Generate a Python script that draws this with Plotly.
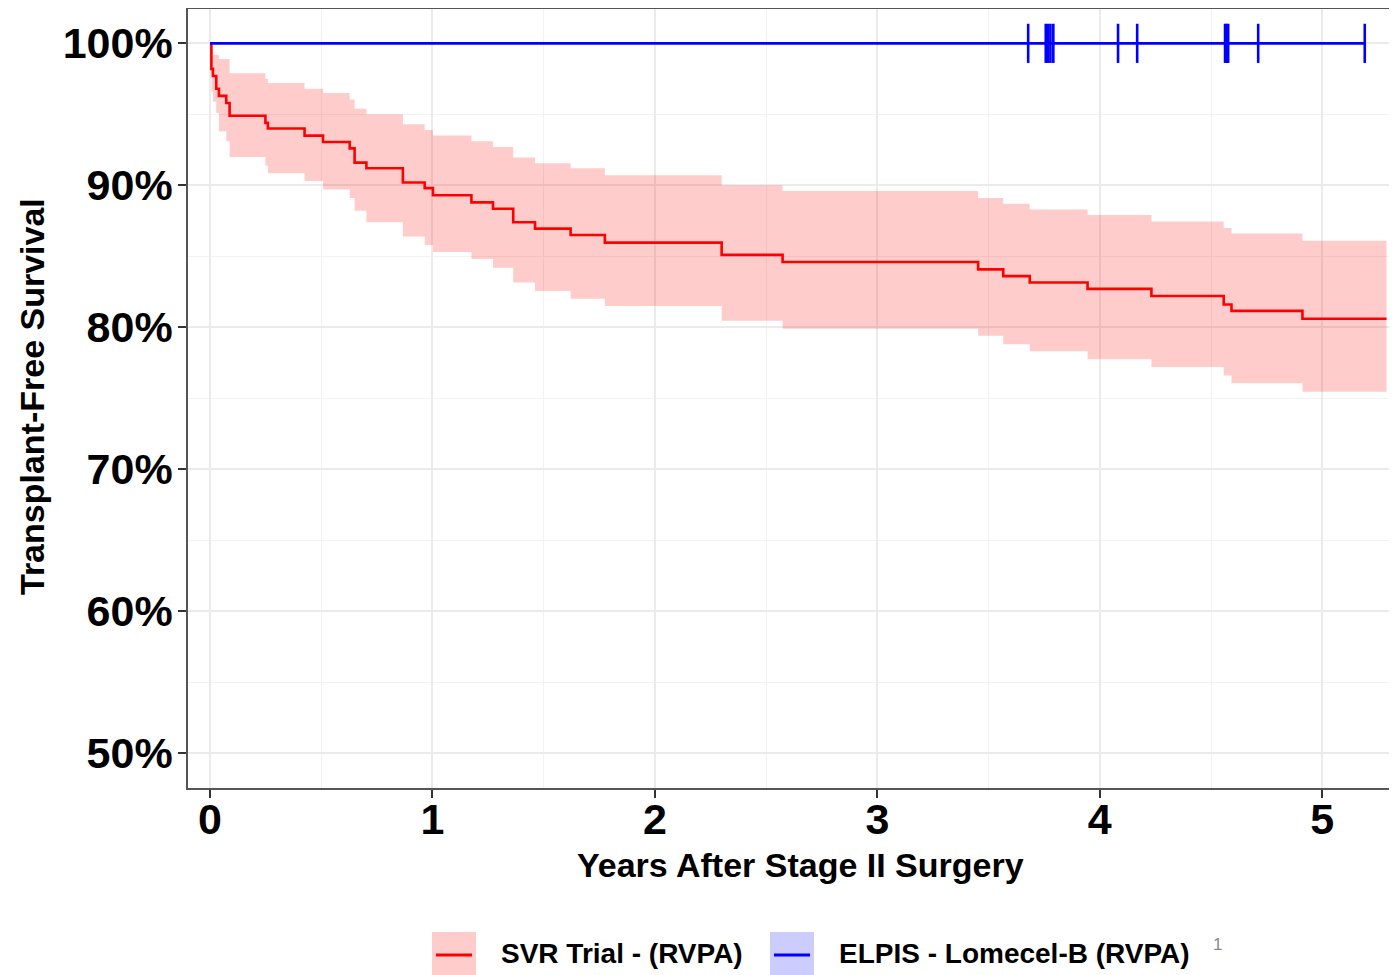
import plotly.graph_objects as go

# ---- SVR Trial (RVPA) Kaplan-Meier estimate and 95% CI (percent) ----
svr_time = [0, 0.006, 0.013, 0.028, 0.04, 0.073, 0.088, 0.249, 0.26, 0.425, 0.508,
            0.628, 0.65, 0.703, 0.867, 0.965, 1.002, 1.175, 1.272, 1.363, 1.461,
            1.621, 1.775, 2.30, 2.574, 3.453, 3.566, 3.685, 3.945, 4.232, 4.557,
            4.592, 4.911, 5.289]
svr_surv = [100, 98.2, 97.7, 96.8, 96.3, 95.8, 94.9, 94.4, 94.0, 93.5, 93.05,
            92.6, 91.6, 91.2, 90.2, 89.8, 89.3, 88.8, 88.35, 87.4, 86.95,
            86.5, 85.96, 85.1, 84.6, 84.08, 83.6, 83.15, 82.7, 82.2, 81.6,
            81.15, 80.6, 80.6]
svr_upper = [100, 99.6, 99.2, 99.2, 98.9, 98.9, 97.9, 97.5, 97.2, 96.8, 96.5,
             96.05, 95.4, 95.0, 94.3, 93.9, 93.5, 93.1, 92.7, 91.95, 91.55,
             91.2, 90.7, 90.0, 89.6, 89.1, 88.7, 88.3, 87.9, 87.45, 87.0,
             86.6, 86.1, 86.1]
svr_lower = [100, 96.6, 95.9, 95.1, 93.8, 93.1, 92.0, 91.4, 90.85, 90.3, 89.7,
             89.1, 88.2, 87.4, 86.4, 85.8, 85.3, 84.8, 84.2, 83.15, 82.55,
             82.0, 81.5, 80.45, 79.9, 79.4, 78.8, 78.3, 77.75, 77.2, 76.6,
             76.05, 75.45, 75.45]

# ---- ELPIS - Lomecel-B (RVPA) ----
elpis_time = [0, 5.191]
elpis_surv = [100, 100]
elpis_censor_time = [3.678, 3.757, 3.767, 3.778, 3.791, 4.082, 4.168,
                     4.563, 4.570, 4.577, 4.712, 5.191]
elpis_censor_surv = [100] * len(elpis_censor_time)

x_ticks = [0, 1, 2, 3, 4, 5]
y_ticks = [50, 60, 70, 80, 90, 100]
y_tick_labels = [f"{v}%" for v in y_ticks]

FONT = "Liberation Sans"

fig = go.Figure()

fig.add_trace(go.Scatter(x=svr_time, y=svr_lower, mode="lines", line_shape="hv",
                         line=dict(width=0), hoverinfo="skip", showlegend=False))
fig.add_trace(go.Scatter(x=svr_time, y=svr_upper, mode="lines", line_shape="hv",
                         line=dict(width=0), fill="tonexty",
                         fillcolor="rgba(255,0,0,0.2)", hoverinfo="skip",
                         showlegend=False))
fig.add_trace(go.Scatter(x=svr_time, y=svr_surv, mode="lines", line_shape="hv",
                         line=dict(color="#FF0000", width=2.6), showlegend=False))
fig.add_trace(go.Scatter(x=elpis_time, y=elpis_surv, mode="lines", line_shape="hv",
                         line=dict(color="#0000FF", width=2.6), showlegend=False))
fig.add_trace(go.Scatter(x=elpis_censor_time, y=elpis_censor_surv, mode="markers",
                         marker=dict(symbol="line-ns", size=28,
                                     line=dict(color="#0000FF", width=2.6)),
                         showlegend=False))

axis_common = dict(
    showgrid=True, gridcolor="#EBEBEB", gridwidth=1.6,
    showline=True, linecolor="#555555", linewidth=1.5,
    ticks="outside", ticklen=8, tickwidth=2, tickcolor="#333333",
    zeroline=False,
    tickfont=dict(family=FONT, size=43, color="black", weight="bold"),
)

fig.update_xaxes(**axis_common, mirror=True, range=[-0.099, 5.336],
                 tickvals=x_ticks, ticklabelstandoff=-15,
                 minor=dict(tickvals=[0.5, 1.5, 2.5, 3.5, 4.5], showgrid=True,
                            gridcolor="#F2F2F2", gridwidth=1.2, ticks=""))
fig.update_yaxes(**axis_common, mirror=False, range=[47.54, 102.42],
                 tickvals=y_ticks, ticktext=y_tick_labels, ticklabelstandoff=-3,
                 minor=dict(tickvals=[55, 65, 75, 85, 95], showgrid=True,
                            gridcolor="#F2F2F2", gridwidth=1.2, ticks=""))

# page is drawn inside an 8px body margin; positions below are reference pixels
OFF = 8
W, H = 1397 - OFF, 975 - OFF
L, R, T = 188 - OFF, 0, 9 - OFF
B = H - (788 - OFF)


def px_x(p):
    return (p - OFF - L) / (W - L - R)


def px_y(p):
    return (H - B - (p - OFF)) / (H - T - B)


annotations = [
    dict(text="Years After Stage II Surgery", x=px_x(800), y=px_y(865),
         xref="paper", yref="paper", showarrow=False, xanchor="center",
         yanchor="middle",
         font=dict(family=FONT, size=34, color="black", weight="bold")),
    dict(text="Transplant-Free Survival", x=px_x(32), y=px_y(397),
         xref="paper", yref="paper", showarrow=False, xanchor="center",
         yanchor="middle", textangle=-90,
         font=dict(family=FONT, size=34, color="black", weight="bold")),
    dict(text="SVR Trial - (RVPA)", x=px_x(499), y=px_y(954),
         xref="paper", yref="paper", showarrow=False, xanchor="left",
         yanchor="middle",
         font=dict(family=FONT, size=28, color="black", weight="bold")),
    dict(text="ELPIS - Lomecel-B (RVPA)", x=px_x(837), y=px_y(954),
         xref="paper", yref="paper", showarrow=False, xanchor="left",
         yanchor="middle",
         font=dict(family=FONT, size=28, color="black", weight="bold")),
    dict(text="1", x=px_x(1211), y=px_y(944),
         xref="paper", yref="paper", showarrow=False, xanchor="left",
         yanchor="middle",
         font=dict(family=FONT, size=17, color="#888888")),
]

shapes = [
    dict(type="rect", xref="paper", yref="paper", x0=px_x(432), x1=px_x(476),
         y0=px_y(932), y1=px_y(978), fillcolor="rgba(255,0,0,0.2)",
         line=dict(width=0)),
    dict(type="line", xref="paper", yref="paper", x0=px_x(436), x1=px_x(472),
         y0=px_y(955), y1=px_y(955), line=dict(color="#FF0000", width=2.8)),
    dict(type="rect", xref="paper", yref="paper", x0=px_x(770), x1=px_x(814),
         y0=px_y(932), y1=px_y(978), fillcolor="rgba(0,0,255,0.2)",
         line=dict(width=0)),
    dict(type="line", xref="paper", yref="paper", x0=px_x(774), x1=px_x(810),
         y0=px_y(955), y1=px_y(955), line=dict(color="#0000FF", width=2.8)),
]

fig.update_layout(
    width=W, height=H,
    margin=dict(l=L, r=R, t=T, b=B),
    paper_bgcolor="white", plot_bgcolor="white",
    showlegend=False,
    annotations=annotations,
    shapes=shapes,
)

fig.write_html("out.html")
